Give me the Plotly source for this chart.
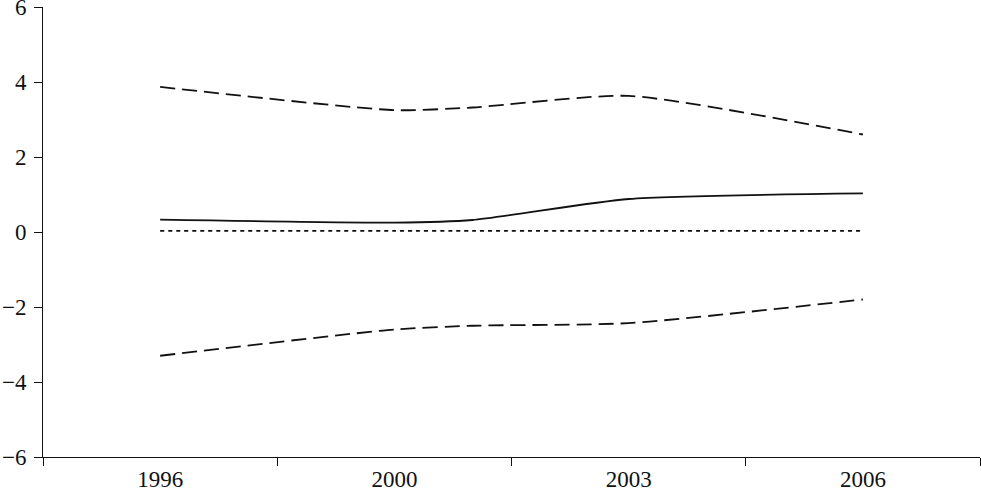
import numpy as np
import plotly.graph_objects as go

# labelled periods on the x axis and the years of the data points
tick_years = [1996, 2000, 2003, 2006]
years = [1996, 2000, 2001, 2003, 2006]

estimate = [0.33, 0.25, 0.32, 0.88, 1.03]
upper = [3.87, 3.25, 3.32, 3.63, 2.60]
lower = [-3.30, -2.60, -2.50, -2.43, -1.80]
zero = [0.03, 0.03, 0.03, 0.03, 0.03]

# the axis is laid out as evenly spaced periods, so map each year onto it
pos = np.interp(years, tick_years, np.arange(len(tick_years)))

fig = go.Figure()

series = [
    (upper, dict(color="#111", width=1.8, dash="15px,7px")),
    (lower, dict(color="#111", width=1.8, dash="15px,7px")),
    (estimate, dict(color="#111", width=1.8)),
    (zero, dict(color="#111", width=1.8, dash="4px,4px")),
]
for vals, ln in series:
    fig.add_trace(go.Scatter(x=pos, y=vals, mode="lines",
                             line=dict(shape="spline", smoothing=0.6, **ln),
                             showlegend=False, hoverinfo="skip"))

# invisible trace so the label axis is drawn
fig.add_trace(go.Scatter(x=[0], y=[0], xaxis="x2", mode="markers",
                         marker=dict(opacity=0), showlegend=False,
                         hoverinfo="skip"))

font = dict(family="Liberation Serif", size=23, color="#111")
n = len(tick_years)
fig.update_layout(
    width=981, height=491,
    margin=dict(l=43, r=1, t=7, b=34),
    plot_bgcolor="white", paper_bgcolor="white",
    font=font,
    xaxis=dict(range=[-0.5, n - 0.5], showgrid=False, zeroline=False,
               showline=True, linecolor="#111", linewidth=1,
               tickmode="array", tickvals=[i - 0.5 for i in range(n + 1)],
               ticks="outside", ticklen=8, tickcolor="#111",
               showticklabels=False, automargin=False),
    xaxis2=dict(range=[-0.5, n - 0.5], overlaying="x", anchor="y",
                side="bottom", showgrid=False, zeroline=False,
                showline=False, tickmode="array",
                tickvals=list(range(n)),
                ticktext=[str(y) for y in tick_years],
                ticks="", ticklabelstandoff=6, tickfont=font,
                ticklabeloverflow="allow", automargin=False),
    yaxis=dict(range=[-6, 6], dtick=2, showgrid=False, zeroline=False,
               showline=True, linecolor="#111", linewidth=1,
               ticks="outside", ticklen=8, tickcolor="#111",
               ticklabelstandoff=3,
               tickfont=font, ticklabeloverflow="allow", automargin=False),
)

# page has a default body margin; drop it so the figure sits at the corner
fig.write_html("out.html", config={"displayModeBar": False},
               post_script="document.body.style.margin='0';"
                           "document.body.style.overflow='hidden';")
